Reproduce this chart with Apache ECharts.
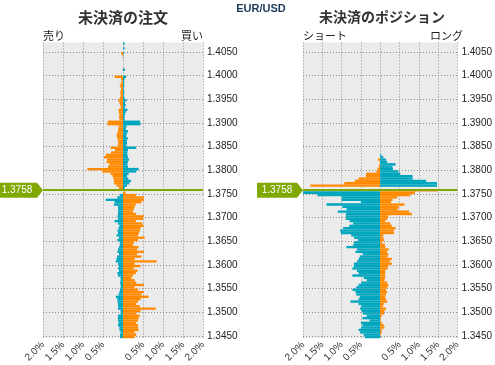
<!DOCTYPE html>
<html><head><meta charset="utf-8">
<script src="https://cdn.jsdelivr.net/npm/echarts@6/dist/echarts.min.js"></script>
<style>html,body{margin:0;padding:0;background:#fff}#c{width:495px;height:365px}</style>
</head><body><div id="c"></div>
<script>
// ---- data ----
const currentPrice = 1.3758;
const priceTicks = ['1.4050','1.4000','1.3950','1.3900','1.3850','1.3800','1.3750','1.3700','1.3650','1.3600','1.3550','1.3500','1.3450'];
const pctTicks = ['2.0%','1.5%','1.0%','0.5%','','0.5%','1.0%','1.5%','2.0%'];
// price buckets (lower bound), top to bottom: 1.4065 ... 1.3445
const buckets = [];
for (let p = 14065; p >= 13445; p -= 5) buckets.push((p / 10000).toFixed(4));

// 未決済の注文 (% of orders), left side (売り) and right side (買い), top to bottom
const orderSell = [
  0,0,0,0,.05,.02,0,0,0,0,            // 1.4065-1.4020
  0,.01,0,0,.21,.05,.04,.06,.08,.05,  // 1.4015-1.3970
  .06,.07,.06,.08,.12,.09,.07,.06,.11,.11, // 1.3965-1.3920
  .09,.10,.09,.38,.39,.11,.12,.125,.15,.16, // 1.3915-1.3870
  .14,.13,.12,.13,.31,.20,.30,.43,.48,.40,  // 1.3865-1.3820
  .41,.34,.375,.89,.52,.31,.26,.24,.23,.22, // 1.3815-1.3770
  .16,.10,0,0,.08,.14,.43,.21,.23,.125,     // 1.3765-1.3720
  .125,.125,.125,.14,.125,.21,.125,.09,.11,.14, // 1.3715-1.3670
  .125,.16,.10,.14,.08,.08,.10,.125,.14,.10,    // 1.3665-1.3620
  .15,.16,.18,.125,.10,.125,.10,.14,.125,.06,   // 1.3615-1.3570
  .06,.075,.06,.06,.075,.09,.11,.18,.14,.14,    // 1.3565-1.3520
  .125,.125,.125,.06,.06,.125,.125,.125,.11,.125, // 1.3515-1.3470
  .09,.09,.06,.075,.075                          // 1.3465-1.3445
];
const orderBuy = [
  .04,0,.04,0,.02,0,.01,0,0,0,
  0,.05,0,0,.08,.04,.03,.03,.03,.02,
  .03,.03,.02,.04,.09,.05,.07,.05,.11,.07,
  .05,.04,.04,.43,.44,.09,.07,.125,.10,.08,
  .12,.10,.10,.09,.33,.125,.11,.11,.125,.15,
  .125,.11,.125,.39,.33,.14,.10,.13,.20,.16,
  .10,.04,0,.07,.32,.52,.52,.46,.32,.29,
  .275,.25,.33,.52,.50,.32,.48,.52,.44,.42,
  .40,.375,.54,.375,.275,.25,.39,.35,.52,.35,
  .46,.29,.84,.29,.44,.27,.36,.32,.25,.21,
  .29,.33,.52,.29,.375,.52,.46,.64,.44,.375,
  .33,.42,.82,.44,.33,.42,.39,.375,.33,.375,
  .375,.39,.29,.33,.29
];
// 未決済のポジション (% of positions), left side (ショート) and right side (ロング), top to bottom
const posShort = [
  0,0,0,0,0,0,0,0,0,0,
  0,0,0,0,0,0,0,0,0,0,
  0,0,0,0,0,0,0,0,0,0,
  0,0,0,0,0,0,0,0,0,0,
  0,0,0,0,0,0,0,0,0,.06,
  .01,.02,.04,.07,.10,.37,.37,.56,.66,.93,
  1.81,0,2.0,2.0,1.63,1.0,1.0,.5,1.39,.98,
  .87,1.1,.89,.89,.89,.79,.70,.80,.96,1.04,
  1.02,.75,.68,.58,.68,.70,.875,.60,.64,.45,
  .53,.56,.60,.68,.68,.72,.60,.56,.72,.43,
  .35,.49,.56,.62,.72,.64,.62,.53,.56,.77,
  .56,.49,.52,.48,.45,.35,.46,.28,.50,.46,
  .49,.56,.52,.43,.40
];
const posLong = [
  0,0,0,0,0,0,0,0,0,0,
  0,0,0,0,0,0,0,0,0,0,
  0,0,0,0,0,0,0,0,0,0,
  0,0,0,0,0,0,0,0,0,0,
  0,0,0,0,0,0,0,.03,.08,.15,
  .18,.40,.32,.33,.47,.52,.84,.84,1.19,1.47,
  1.47,0,1.49,.90,.78,.44,.32,.28,.63,.48,
  .46,.75,.82,.21,.19,.13,.26,.30,.40,.35,
  .36,.08,.08,.10,.05,.12,.13,.22,.17,.21,
  .19,.30,.25,.30,.21,.19,.13,.13,.13,.13,
  .11,.18,.21,.19,.15,.18,.15,.13,.15,.18,
  .09,.07,.15,.11,.10,.04,.01,.01,.04,.09,
  .11,.04,.04,.01,.01
];

// ---- styling ----
const ORANGE = '#ff8a00', BLUE = '#00a5be', GREEN = '#80a800';
const GRID_BG = '#ebebeb', DOT = '#8c8c8c';
const T = 'rgba(0,0,0,0)';
const lineColors = [T, DOT, T, T, T, T, T, T, T, T];
const LATIN = '"Liberation Sans", Arial, sans-serif';
const CJK = '"Noto Sans CJK JP", sans-serif';

const lowest = Number(buckets[buckets.length - 1]);
const highest = Number(buckets[0]) + 0.0005;
// a bucket is "above" the current price when its lower bound is above the price
function isAbove(i) { return Number(buckets[i]) > currentPrice; }

const chart = echarts.init(document.getElementById('c'), null, { renderer: 'canvas' });

const grids = [
  { left: 43, top: 42.5, width: 160, height: 300 },
  { left: 303, top: 42.5, width: 160, height: 300 }
];

function xAxisFor(g) {
  return {
    type: 'value', gridIndex: g, min: -2, max: 2, interval: 0.5,
    axisLine: { show: false }, axisTick: { show: false },
    splitLine: { show: true, lineStyle: { color: DOT, type: [1, 2], width: 1 } },
    axisLabel: {
      rotate: 45, fontSize: 10, color: '#333', margin: 5, fontFamily: LATIN,
      formatter: v => pctTicks[Math.round((v + 2) / 0.5)] || ''
    }
  };
}
function yCatFor(g) {
  return { type: 'category', gridIndex: g, data: buckets, inverse: true, show: false,
           axisTick: { show: false }, axisLine: { show: false }, axisLabel: { show: false }, splitLine: { show: false } };
}
function yValFor(g) {
  return {
    type: 'value', gridIndex: g, position: 'right', min: lowest, max: highest, interval: 0.0005,
    axisLine: { show: false }, axisTick: { show: false },
    splitLine: { show: true, lineStyle: { color: lineColors, type: [1, 2], width: 1 } },
    axisLabel: {
      fontSize: 10, color: '#222', margin: 4, fontFamily: LATIN,
      formatter: v => { const s = v.toFixed(4); return priceTicks.indexOf(s) >= 0 ? s : ''; }
    }
  };
}

function barSeries(name, g, values, leftSide) {
  return {
    name, type: 'bar', xAxisIndex: g, yAxisIndex: g * 2,
    data: values.map(v => leftSide ? -v : v),
    barCategoryGap: '0%', barGap: '-100%', silent: true, animation: false,
    itemStyle: {
      color: p => {
        const above = isAbove(p.dataIndex);
        return leftSide ? (above ? ORANGE : BLUE) : (above ? BLUE : ORANGE);
      }
    }
  };
}
function priceSeries(g) {
  return {
    type: 'line', xAxisIndex: g, yAxisIndex: g * 2 + 1, data: [], silent: true, animation: false, z: 5,
    markLine: {
      symbol: 'none', silent: true, animation: false, precision: 4,
      label: { show: false },
      lineStyle: { color: GREEN, width: 2, type: 'solid' },
      data: [{ yAxis: currentPrice }]
    },
    markPoint: {
      symbol: 'path://M0,0 L40,0 L46,7.5 L40,15 L0,15 Z', symbolSize: [46, 15], symbolOffset: [-23, 0],
      silent: true, animation: false,
      itemStyle: { color: GREEN },
      label: { show: true, position: 'inside', formatter: currentPrice.toFixed(4), color: '#fff', fontSize: 10, fontFamily: LATIN, offset: [-3, 0] },
      data: [{ coord: [-2, currentPrice] }]
    }
  };
}

const option = {
  animation: false,
  backgroundColor: '#fff',
  grid: grids.map(g => Object.assign({ show: true, backgroundColor: GRID_BG, borderWidth: 0, containLabel: false }, g)),
  xAxis: [xAxisFor(0), xAxisFor(1)],
  yAxis: [yCatFor(0), yValFor(0), yCatFor(1), yValFor(1)],
  series: [
    barSeries('売り', 0, orderSell, true),
    barSeries('買い', 0, orderBuy, false),
    priceSeries(0),
    barSeries('ショート', 1, posShort, true),
    barSeries('ロング', 1, posLong, false),
    priceSeries(1)
  ],
  graphic: [
    { type: 'text', x: 261, y: 3, silent: true, style: { text: 'EUR/USD', font: 'bold 11px ' + LATIN, fill: '#1d3a5c', align: 'center', verticalAlign: 'top' } },
    { type: 'text', x: 123, y: 10, silent: true, style: { text: '未決済の注文', font: 'bold 15px ' + CJK, fill: '#333', align: 'center', verticalAlign: 'top' } },
    { type: 'text', x: 382, y: 10, silent: true, style: { text: '未決済のポジション', font: 'bold 14px ' + CJK, fill: '#333', align: 'center', verticalAlign: 'top' } },
    { type: 'text', x: 43, y: 30, silent: true, style: { text: '売り', font: '11px ' + CJK, fill: '#222', align: 'left', verticalAlign: 'top' } },
    { type: 'text', x: 203, y: 30, silent: true, style: { text: '買い', font: '11px ' + CJK, fill: '#222', align: 'right', verticalAlign: 'top' } },
    { type: 'text', x: 303, y: 30, silent: true, style: { text: 'ショート', font: '11px ' + CJK, fill: '#222', align: 'left', verticalAlign: 'top' } },
    { type: 'text', x: 463, y: 30, silent: true, style: { text: 'ロング', font: '11px ' + CJK, fill: '#222', align: 'right', verticalAlign: 'top' } }
  ]
};
chart.setOption(option);
</script></body></html>
